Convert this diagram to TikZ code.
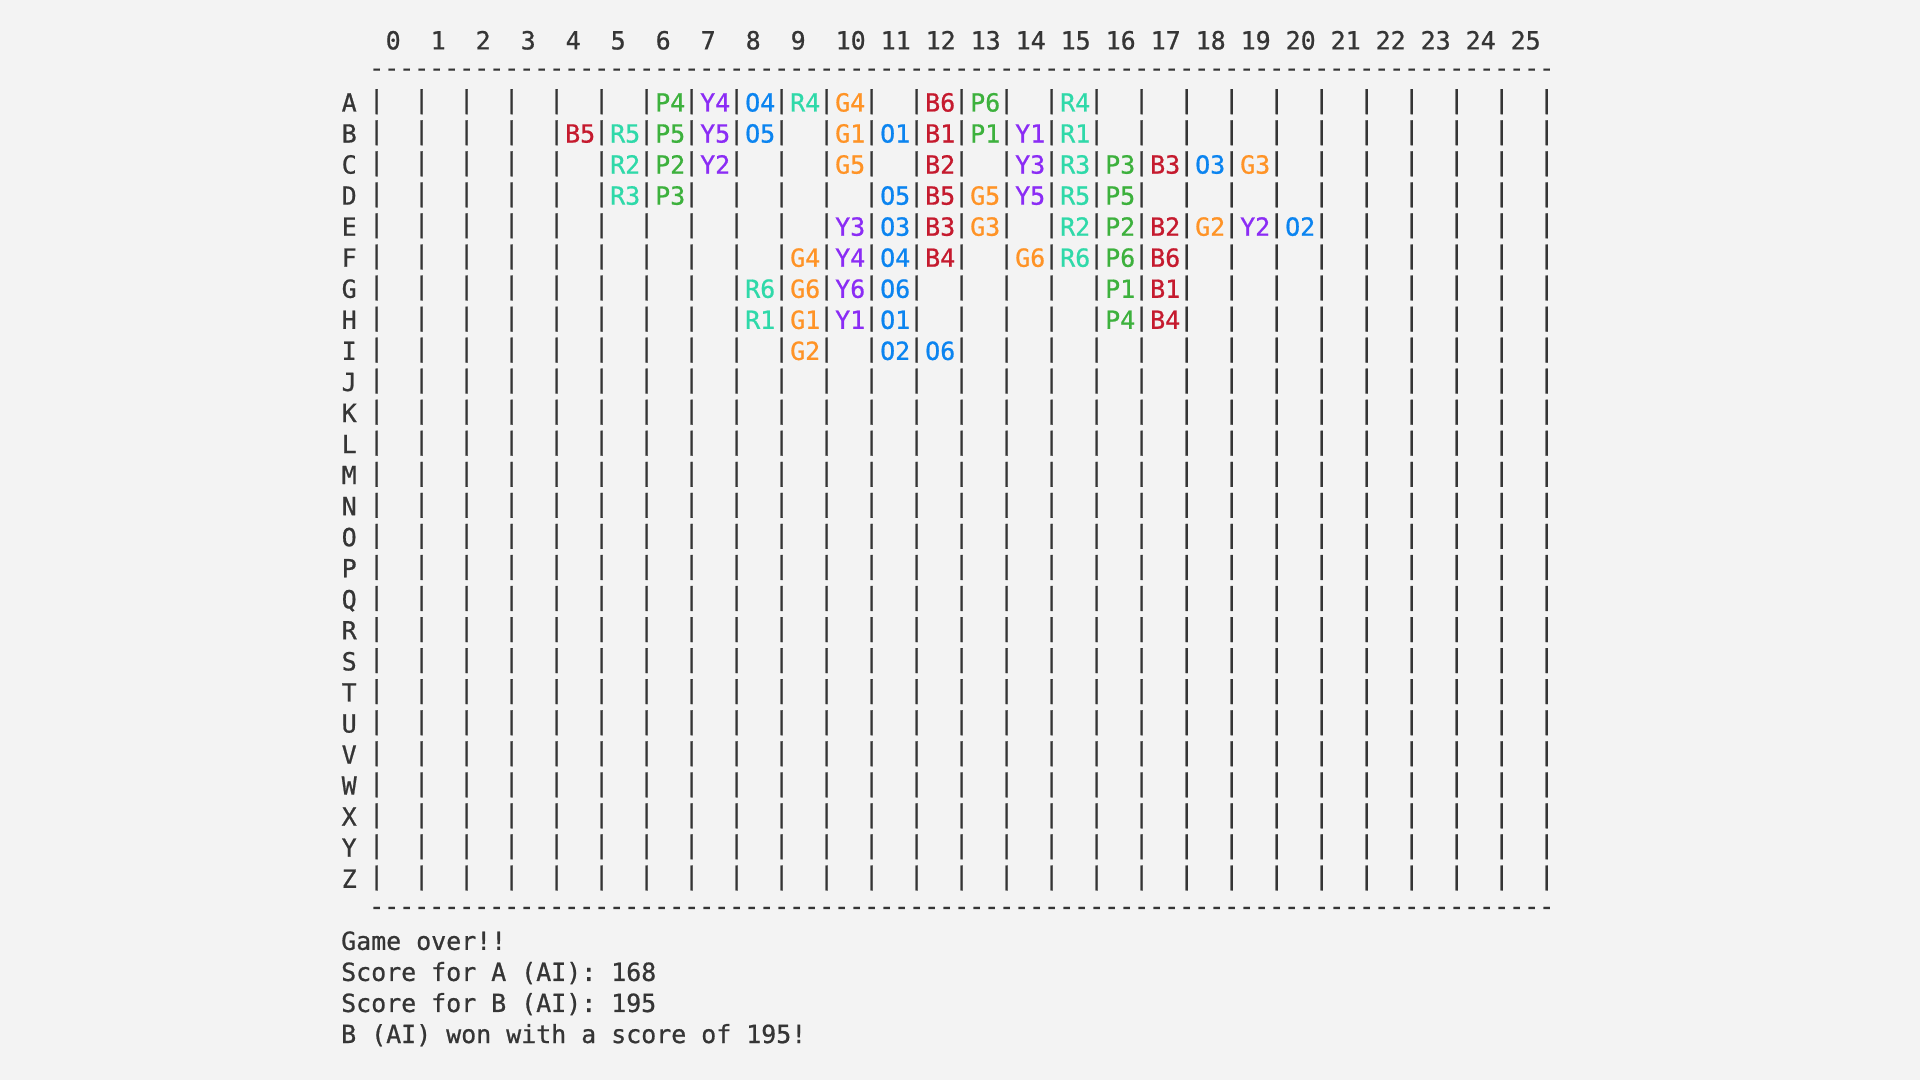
\documentclass[tikz,border=0pt]{standalone}
\usepackage{fontspec}
\font\monofnt="DejaVu Sans Mono:embolden=0.8" at 18.69pt
\definecolor{bgc}{HTML}{F3F3F3}
\definecolor{ink}{HTML}{353535}
\definecolor{cP}{HTML}{3DB13D}
\definecolor{cY}{HTML}{8B2CF5}
\definecolor{cO}{HTML}{0B84F0}
\definecolor{cR}{HTML}{2FD9A9}
\definecolor{cG}{HTML}{FF9326}
\definecolor{cB}{HTML}{C51A2E}
\begin{document}
\begin{tikzpicture}[x=0.75pt,y=-0.75pt,
  txt/.style={inner sep=0pt, outer sep=0pt, anchor=base west,
    font=\monofnt\frenchspacing, text=ink}]
\fill[bgc] (0,0) rectangle (1920,1080);
\useasboundingbox (0,0) rectangle (1920,1080);
% column header
\foreach \i in {0,...,25}
  \node[txt] (hdr\i) at ({385.7+45*\i},49.4) {\i};
% rule lines
\foreach \k in {0,...,78} {
  \node[txt] (dtop\k) at ({369.2+15*\k},{49.4+31.05-4}) {-};
  \node[txt] (dbot\k) at ({369.2+15*\k},{49.4+31.05*28-4}) {-};
}
% rows
\foreach \lab [count=\r from 2] in {A,...,Z} {
  \node[txt] (lab\lab) at (341.7,{49.4+31.05*\r}) {\lab};
  \foreach \b in {0,...,26}
    \node[txt] (bar-\lab-\b) at ({369.2+45*\b},{46.2+31.05*\r}) {|};
}
% cell contents
\foreach \L/\c/\k/\t in {
  2/6/P/P4, 2/7/Y/Y4, 2/8/O/O4, 2/9/R/R4, 2/10/G/G4, 2/12/B/B6, 2/13/P/P6, 2/15/R/R4,
  3/4/B/B5, 3/5/R/R5, 3/6/P/P5, 3/7/Y/Y5, 3/8/O/O5, 3/10/G/G1, 3/11/O/O1, 3/12/B/B1, 3/13/P/P1, 3/14/Y/Y1, 3/15/R/R1,
  4/5/R/R2, 4/6/P/P2, 4/7/Y/Y2, 4/10/G/G5, 4/12/B/B2, 4/14/Y/Y3, 4/15/R/R3, 4/16/P/P3, 4/17/B/B3, 4/18/O/O3, 4/19/G/G3,
  5/5/R/R3, 5/6/P/P3, 5/11/O/O5, 5/12/B/B5, 5/13/G/G5, 5/14/Y/Y5, 5/15/R/R5, 5/16/P/P5,
  6/10/Y/Y3, 6/11/O/O3, 6/12/B/B3, 6/13/G/G3, 6/15/R/R2, 6/16/P/P2, 6/17/B/B2, 6/18/G/G2, 6/19/Y/Y2, 6/20/O/O2,
  7/9/G/G4, 7/10/Y/Y4, 7/11/O/O4, 7/12/B/B4, 7/14/G/G6, 7/15/R/R6, 7/16/P/P6, 7/17/B/B6,
  8/8/R/R6, 8/9/G/G6, 8/10/Y/Y6, 8/11/O/O6, 8/16/P/P1, 8/17/B/B1,
  9/8/R/R1, 9/9/G/G1, 9/10/Y/Y1, 9/11/O/O1, 9/16/P/P4, 9/17/B/B4,
  10/9/G/G2, 10/11/O/O2, 10/12/O/O6}
  \node[txt, text=c\k] (cell-\L-\c) at ({385.2+45*\c},{49.4+31.05*\L}) {\t};
% result text
\node[txt] (over)   at (341.2,{49.4+31.05*29}) {Game over!!};
\node[txt] (scoreA) at (341.2,{49.4+31.05*30}) {Score for A (AI): 168};
\node[txt] (scoreB) at (341.2,{49.4+31.05*31}) {Score for B (AI): 195};
\node[txt] (winner) at (341.2,{49.4+31.05*32}) {B (AI) won with a score of 195!};
\end{tikzpicture}
\end{document}
